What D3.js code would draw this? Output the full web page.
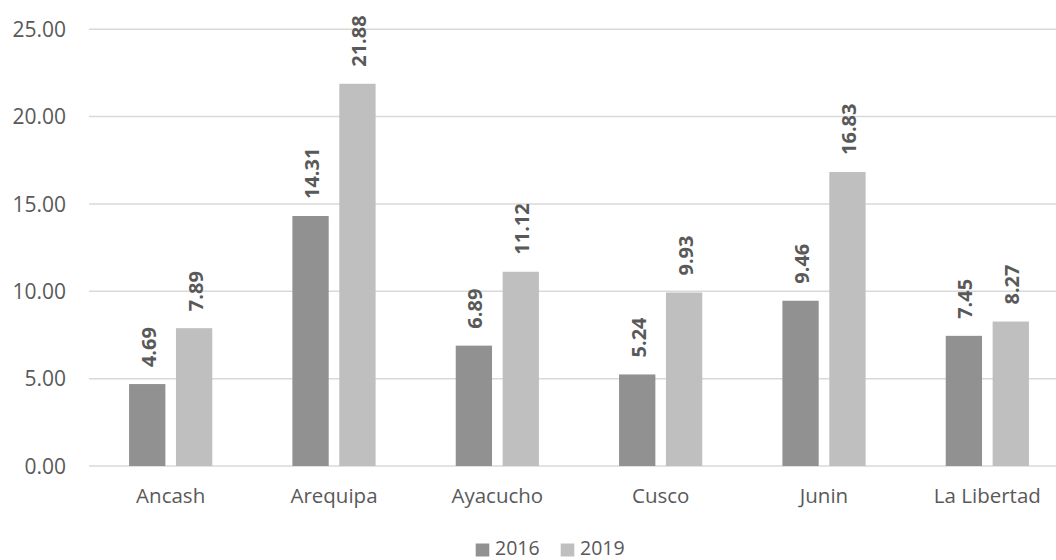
<!DOCTYPE html>
<html>
<head>
<meta charset="utf-8">
<script src="https://cdn.jsdelivr.net/npm/d3@7"></script>
<style>
  html, body { margin: 0; padding: 0; background: #ffffff; }
  svg { display: block; }
  text { font-family: "Open Sans", "Noto Sans", sans-serif; fill: #595959; }
</style>
</head>
<body>
<svg id="chart" width="1056" height="560"></svg>
<script>
// Regions and values per year
const categories = ["Ancash", "Arequipa", "Ayacucho", "Cusco", "Junin", "La Libertad"];
const seriesNames = ["2016", "2019"];
const values2016 = [4.69, 14.31, 6.89, 5.24, 9.46, 7.45];
const values2019 = [7.89, 21.88, 11.12, 9.93, 16.83, 8.27];
const yTicks = [0, 5, 10, 15, 20, 25];
const colors = ["#919191", "#bfbfbf"];

const series = [values2016, values2019];

const svg = d3.select("#chart");

const plotLeft = 89, plotRight = 1069, plotTop = 29.25, plotBottom = 466;

const x = d3.scaleBand().domain(categories).range([plotLeft, plotRight]).paddingInner(0).paddingOuter(0);
const y = d3.scaleLinear().domain([0, 25]).range([plotBottom, plotTop]);

const barW = 36.3, barGap = 10.6;
const groupW = barW * 2 + barGap;

// Horizontal gridlines
svg.append("g").selectAll("line").data(yTicks).join("line")
  .attr("x1", plotLeft).attr("x2", plotRight)
  .attr("y1", d => y(d)).attr("y2", d => y(d))
  .attr("stroke", "#d9d9d9").attr("stroke-width", 1.5);

// Y tick labels
const yAxis = d3.axisLeft(y).tickValues(yTicks).tickFormat(d3.format(".2f")).tickSize(0).tickPadding(0);
const gy = svg.append("g").attr("transform", "translate(66,0)").call(yAxis);
gy.select(".domain").remove();
gy.selectAll("text")
  .attr("font-size", 21).attr("fill", "#595959")
  .attr("font-family", "'Open Sans', sans-serif")
  .attr("dy", "0.34em");

// Bars
series.forEach((vals, si) => {
  const g = svg.append("g");
  g.selectAll("rect").data(categories).join("rect")
    .attr("x", c => x(c) + x.bandwidth() / 2 - groupW / 2 + si * (barW + barGap))
    .attr("width", barW)
    .attr("y", (c, i) => y(vals[i]))
    .attr("height", (c, i) => y(0) - y(vals[i]))
    .attr("fill", colors[si]);

  // Value labels, rotated
  g.selectAll("text").data(categories).join("text")
    .attr("transform", (c, i) => {
      const cx = x(c) + x.bandwidth() / 2 - groupW / 2 + si * (barW + barGap) + barW / 2 + 1.5;
      return `translate(${cx},${y(vals[i]) - 17}) rotate(-90)`;
    })
    .attr("text-anchor", "start")
    .attr("dy", "0.35em")
    .attr("font-size", 20)
    .attr("font-weight", "bold")
    .attr("fill", "#404040")
    .text((c, i) => vals[i].toFixed(2));
});

// Category labels
const xAxis = d3.axisBottom(x).tickSize(0).tickPadding(0);
const gx = svg.append("g").attr("transform", `translate(0,${plotBottom})`).call(xAxis);
gx.select(".domain").remove();
gx.selectAll("text")
  .attr("font-size", 20.5).attr("fill", "#595959")
  .attr("font-family", "'Open Sans', sans-serif")
  .attr("y", 37).attr("dy", 0);

// Legend
const legend = svg.append("g");
const legendItems = [
  { name: seriesNames[0], color: colors[0], sx: 475.7, tx: 495 },
  { name: seriesNames[1], color: colors[1], sx: 560.7, tx: 580 }
];
legendItems.forEach(it => {
  legend.append("rect").attr("x", it.sx).attr("y", 543.5).attr("width", 13.6).attr("height", 13)
    .attr("fill", it.color);
  legend.append("text").attr("x", it.tx).attr("y", 555)
    .attr("font-size", 19.5).attr("fill", "#595959").text(it.name);
});
</script>
</body>
</html>
